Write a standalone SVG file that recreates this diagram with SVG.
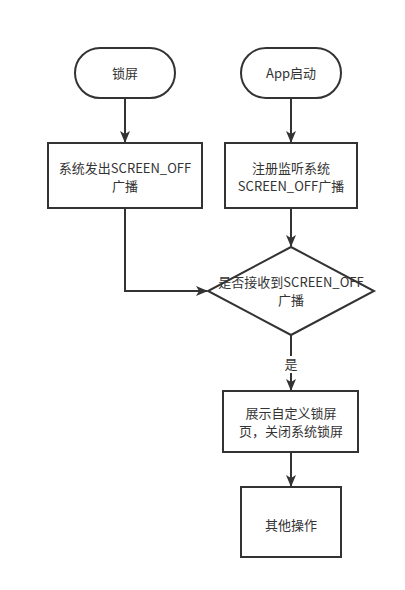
<svg xmlns="http://www.w3.org/2000/svg" width="405" height="590" viewBox="0 0 405 590">
<defs>
<style>
.shape{fill:#ffffff;stroke:#333333;stroke-width:2}
.edge{fill:none;stroke:#333333;stroke-width:2}
text{font-family:"Microsoft YaHei","Noto Sans CJK SC","Noto Sans",sans-serif;font-size:13px;fill:#333333;text-anchor:middle}
</style>
<marker id="arr" markerUnits="userSpaceOnUse" markerWidth="12" markerHeight="12" viewBox="0 0 12 12" refX="11" refY="6" orient="auto">
<path d="M0,1 L12,6 L0,11 L3,6 Z" fill="#333333"/>
</marker>
</defs>
<rect width="405" height="590" fill="#ffffff"/>
<g id="connectors">
<path class="edge" d="M125,98 L125,142" marker-end="url(#arr)"/>
<path class="edge" d="M291,98 L291,142" marker-end="url(#arr)"/>
<path class="edge" d="M125,208 L125,291 L207,291" marker-end="url(#arr)"/>
<path class="edge" d="M291,208 L291,246" marker-end="url(#arr)"/>
<path class="edge" d="M291,335 L291,390" marker-end="url(#arr)"/>
<path class="edge" d="M291,452 L291,486" marker-end="url(#arr)"/>
<rect x="283" y="356" width="16" height="17" fill="#ffffff"/>
<text x="291" y="369">是</text>
</g>
<g id="lock">
<rect class="shape" x="75" y="48" width="100" height="50" rx="25" ry="25"/>
<text x="125" y="78">锁屏</text>
</g>
<g id="app">
<rect class="shape" x="241" y="48" width="100" height="50" rx="25" ry="25"/>
<text x="291" y="78">App启动</text>
</g>
<g id="sysbroadcast">
<rect class="shape" x="48" y="143" width="154" height="65"/>
<text x="125" y="173">系统发出SCREEN_OFF</text>
<text x="125" y="191">广播</text>
</g>
<g id="register">
<rect class="shape" x="225" y="143" width="132" height="65"/>
<text x="291" y="173">注册监听系统</text>
<text x="291" y="191">SCREEN_OFF广播</text>
</g>
<g id="decision">
<polygon class="shape" points="291,247 374,291 291,335 208,291"/>
<text x="291" y="287">是否接收到SCREEN_OFF</text>
<text x="291" y="305">广播</text>
</g>
<g id="custom">
<rect class="shape" x="223" y="391" width="135" height="61"/>
<text x="291" y="418">展示自定义锁屏</text>
<text x="291" y="436">页，关闭系统锁屏</text>
</g>
<g id="other">
<rect class="shape" x="241" y="487" width="100" height="70"/>
<text x="291" y="530">其他操作</text>
</g>
</svg>
